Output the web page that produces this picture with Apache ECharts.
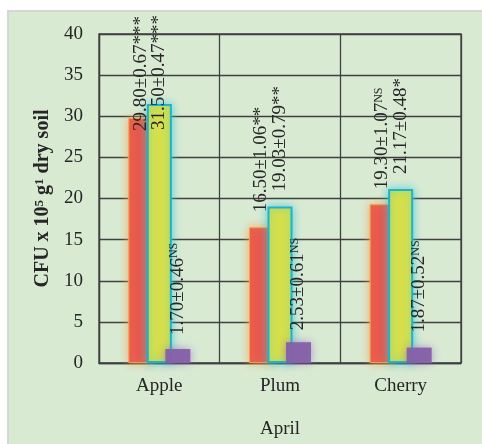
<!DOCTYPE html>
<html>
<head>
<meta charset="utf-8">
<script src="https://cdn.jsdelivr.net/npm/echarts@6/dist/echarts.min.js"></script>
<style>
html,body{margin:0;padding:0;background:#fff;}
#chart{width:482px;height:444px;}
</style>
</head>
<body>
<div id="chart"></div>
<script>
// ---- data ----
const categories = ['Apple', 'Plum', 'Cherry'];
const yTicks = [0, 5, 10, 15, 20, 25, 30, 35, 40];

const seriesA = [29.80, 16.50, 19.30];
const seriesA_se = [0.67, 1.06, 1.07];
const seriesA_sig = ['***', '**', 'NS'];

const seriesB = [31.50, 19.03, 21.17];
const seriesB_se = [0.47, 0.79, 0.48];
const seriesB_sig = ['***', '**', '*'];

const seriesC = [1.70, 2.53, 1.87];
const seriesC_se = [0.46, 0.61, 0.52];
const seriesC_sig = ['NS', 'NS', 'NS'];

const xName = 'April';

// ---- styling / build ----
const FONT = "'Liberation Serif', 'Times New Roman', serif";
const TXT = '#262626';
const GRID = '#404040';

// label distance overrides (styling) for crowded category
const labelDist = [
  [-13, 15, 15],
  [-26, 15, 15],
  [14, 12, 15]
];

function fmt(v) { return v.toFixed(2); }

function buildData(vals, se, sig, dists) {
  return vals.map((v, i) => ({
    value: v,
    label: { distance: dists[i] },
    _txt: fmt(v) + '±' + fmt(se[i]),
    _sig: sig[i]
  }));
}

function labelFormatter(p) {
  const d = p.data;
  if (d._sig === 'NS') return '{m|' + d._txt + '}{s|NS}';
  return '{m|' + d._txt + d._sig + '}';
}

const baseLabel = {
  show: true,
  position: 'top',
  rotate: 90,
  align: 'left',
  verticalAlign: 'middle',
  formatter: labelFormatter,
  rich: {
    m: { fontFamily: FONT, fontSize: 19, color: TXT },
    s: { fontFamily: FONT, fontSize: 12, color: TXT, verticalAlign: 'top', padding: [0, 0, 6, 0] }
  }
};

const chart = echarts.init(document.getElementById('chart'), null, { renderer: 'canvas' });

const option = {
  animation: false,
  backgroundColor: '#ffffff',
  graphic: [{
    type: 'rect',
    z: -10,
    silent: true,
    shape: { x: 8, y: 11, width: 480, height: 440 },
    style: { fill: '#d9ead3', stroke: '#d6d6d6', lineWidth: 2 }
  }],
  grid: {
    left: 99, right: 21, top: 34, bottom: 74,
    show: true, borderColor: GRID, borderWidth: 1.3, backgroundColor: 'transparent'
  },
  xAxis: {
    type: 'category',
    data: categories,
    name: xName,
    nameLocation: 'middle',
    nameGap: 57,
    nameTextStyle: { fontFamily: FONT, fontSize: 19, color: TXT },
    axisLine: { show: true, lineStyle: { color: GRID, width: 1.3 } },
    axisTick: { show: false },
    axisLabel: { fontFamily: FONT, fontSize: 19, color: TXT, margin: 14 },
    splitLine: { show: true, lineStyle: { color: GRID, width: 1.3 } }
  },
  yAxis: {
    type: 'value',
    min: yTicks[0],
    max: yTicks[yTicks.length - 1],
    interval: yTicks[1] - yTicks[0],
    name: '{b|CFU x 10}{bs|5}{b| g}{bs|1}{b| dry soil}',
    nameLocation: 'middle',
    nameGap: 43,
    nameRotate: 90,
    nameTextStyle: {
      rich: {
        b: { fontFamily: FONT, fontSize: 20, fontWeight: 'bold', color: TXT },
        bs: { fontFamily: FONT, fontSize: 13, fontWeight: 'bold', color: TXT, verticalAlign: 'top', padding: [0, 0, 7, 0] }
      }
    },
    axisLine: { show: true, lineStyle: { color: GRID, width: 1.3 } },
    axisTick: { show: false },
    axisLabel: { fontFamily: FONT, fontSize: 19, color: TXT, margin: 16 },
    splitLine: { show: true, lineStyle: { color: GRID, width: 1.3 } }
  },
  series: [
    {
      type: 'bar',
      data: buildData(seriesA, seriesA_se, seriesA_sig, labelDist[0]),
      barWidth: 25,
      barGap: '-26%',
      itemStyle: {
        color: '#e9584d', borderColor: '#f4a14a', borderWidth: 1,
        shadowColor: 'rgba(245,165,80,0.85)', shadowBlur: 8
      },
      label: baseLabel
    },
    {
      type: 'bar',
      data: buildData(seriesB, seriesB_se, seriesB_sig, labelDist[1]),
      barWidth: 25,
      barGap: '-26%',
      itemStyle: {
        color: '#d8e04a', borderColor: '#1fb3c9', borderWidth: 2,
        shadowColor: 'rgba(40,200,225,0.75)', shadowBlur: 8
      },
      label: baseLabel
    },
    {
      type: 'bar',
      data: buildData(seriesC, seriesC_se, seriesC_sig, labelDist[2]),
      barWidth: 25,
      barGap: '-26%',
      itemStyle: {
        color: 'rgba(133,96,168,0.95)',
        shadowColor: 'rgba(150,105,195,0.7)', shadowBlur: 8
      },
      label: baseLabel
    }
  ]
};

chart.setOption(option);
</script>
</body>
</html>
